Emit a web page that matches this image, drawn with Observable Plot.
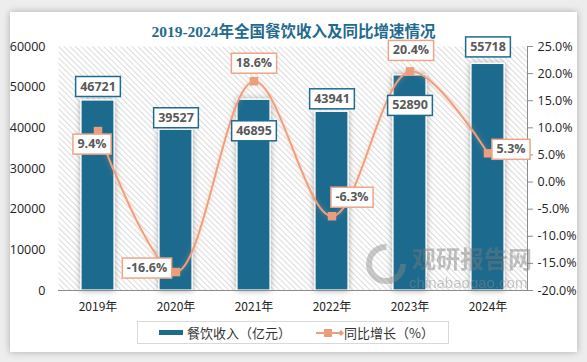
<!DOCTYPE html>
<html>
<head>
<meta charset="utf-8">
<script src="https://cdn.jsdelivr.net/npm/d3@7"></script>
<script src="https://cdn.jsdelivr.net/npm/@observablehq/plot@0.6"></script>
<style>
  html, body { margin: 0; padding: 0; }
  body { width: 587px; height: 362px; background: #ededed; overflow: hidden; font-family: "Noto Sans CJK SC", "Open Sans", sans-serif; }
  #wrap { position: relative; width: 587px; height: 362px; }
  #card { position: absolute; left: 10px; top: 12px; width: 567px; height: 340px; background: #fff; box-shadow: 0 0 7px rgba(0,0,0,0.28); }
  #chart { position: absolute; left: 0; top: 0; }
  #title { position: absolute; left: 0; top: 22px; width: 587px; text-align: center; font: bold 15.5px "Liberation Serif", "Noto Sans CJK SC", serif; color: #1f6b8e; line-height: 20px; }
  #legend { position: absolute; left: 137px; top: 321px; width: 312px; height: 23px; box-sizing: border-box; border: 1px solid #d9d9d9; background: #fff; font-size: 13px; color: #333; }
  .lg { position: absolute; top: 0; line-height: 21px; white-space: nowrap; }
  #wm { position: absolute; left: 362px; top: 240px; width: 170px; height: 55px; pointer-events: none; opacity: 0.45; }
</style>
</head>
<body>
<div id="wrap">
  <div id="card"></div>
  <div id="chart"></div>
  <div id="wm">
    <svg width="170" height="55">
      <circle cx="24" cy="24" r="17" fill="none" stroke="#8a8a8a" stroke-width="6" stroke-dasharray="80 27"/>
      <text x="50" y="28" font-size="24" font-weight="bold" fill="#7a7a7a" font-family="Noto Sans CJK SC">观研报告网</text>
      <text x="47" y="48" font-size="15" fill="#8a8a8a" font-family="Liberation Sans">chinabaogao.com</text>
    </svg>
  </div>
  <div id="title">2019-2024年全国餐饮收入及同比增速情况</div>
  <div id="legend">
    <svg style="position:absolute;left:21px;top:8px" width="25" height="6"><rect x="0" y="0" width="24" height="5" fill="#1f6b8e"/></svg>
    <div class="lg" style="left:49px">餐饮收入（亿元）</div>
    <svg style="position:absolute;left:177px;top:4px" width="30" height="14">
      <line x1="1" y1="7" x2="27" y2="7" stroke="#ef9f7e" stroke-width="2"/>
      <rect x="9" y="3" width="8" height="8" fill="#ec9d7c"/>
      <path d="M26 4 L29 7 L26 10 L23 7 Z" fill="#ec9d7c"/>
    </svg>
    <div class="lg" style="left:206px">同比增长（%）</div>
  </div>
</div>
<script>
// ---- data ----
const years = ["2019年", "2020年", "2021年", "2022年", "2023年", "2024年"];
const revenue = [46721, 39527, 46895, 43941, 52890, 55718];
const growth = [9.4, -16.6, 18.6, -6.3, 20.4, 5.3];
const leftTicks = [0, 10000, 20000, 30000, 40000, 50000, 60000];
const rightTicks = [-20, -15, -10, -5, 0, 5, 10, 15, 20, 25];

// ---- layout (label offsets in px) ----
const barLabelDy = [-14, -12, 31, -13, 30, -17];
const lineLabelOffset = [[-6, 13], [-29, -4], [0, -18], [20, -19], [1, -21], [23, -4]];

const yMax = 60000, pMin = -20, pMax = 25;
const yFromPct = p => (p - pMin) / (pMax - pMin) * yMax;
const pctFromY = y => y / yMax * (pMax - pMin) + pMin;

const data = years.map((year, i) => ({year, revenue: revenue[i], growth: growth[i]}));

const BLUE = "#1f6b8e", ORANGE = "#ef9f7e";
const LABEL_FONT = "bold 12.5px 'Open Sans'";
const measureCtx = document.createElement("canvas").getContext("2d");

// render function that draws a white box with a coloured border behind each label
function boxed(color) {
  return function (index, scales, values, dimensions, context, next) {
    const g = next(index, scales, values, dimensions, context);
    const texts = g.querySelectorAll("text");
    measureCtx.font = LABEL_FONT;
    index.forEach((i, k) => {
      const t = texts[k];
      if (!t) return;
      const w = measureCtx.measureText(t.textContent).width + 9;
      const h = 20;
      const r = document.createElementNS("http://www.w3.org/2000/svg", "rect");
      r.setAttribute("x", values.x[i] - w / 2);
      r.setAttribute("y", values.y[i] - h / 2);
      r.setAttribute("width", w);
      r.setAttribute("height", h);
      r.setAttribute("fill", "#fff");
      r.setAttribute("stroke", color);
      r.setAttribute("stroke-width", 1.5);
      t.parentNode.insertBefore(r, t);
    });
    return g;
  };
}

const barLabels = data.map((d, i) => Plot.text([d], {
  x: "year", y: "revenue", text: d => String(d.revenue),
  dy: barLabelDy[i], fill: "#595959", fontWeight: "bold", fontSize: 12.5,
  fontFamily: "'Open Sans', sans-serif", render: boxed(BLUE)
}));
const lineLabels = data.map((d, i) => Plot.text([d], {
  x: "year", y: d => yFromPct(d.growth), text: d => d.growth.toFixed(1) + "%",
  dx: lineLabelOffset[i][0], dy: lineLabelOffset[i][1], fill: "#595959", fontWeight: "bold", fontSize: 12.5,
  fontFamily: "'Open Sans', sans-serif", render: boxed("#eda587")
}));

const chart = Plot.plot({
  width: 587, height: 362,
  marginTop: 46, marginBottom: 72, marginLeft: 58, marginRight: 60,
  style: {background: "transparent", fontFamily: "'Noto Sans CJK SC', 'Open Sans', sans-serif", fontSize: "12px", color: "#222"},
  x: {domain: years, paddingInner: 0.58, paddingOuter: 0.29, label: null},
  y: {domain: [0, yMax], label: null},
  marks: [
    Plot.frame({fill: "url(#hatch)", stroke: "none"}),
    Plot.barY(data, {x: "year", y: "revenue", fill: BLUE, stroke: "white", strokeWidth: 1.2}),
    Plot.ruleY([0], {stroke: "#8c8c8c", strokeWidth: 1.2}),
    Plot.axisY({ticks: leftTicks, tickSize: 0, tickPadding: 13, tickFormat: d => String(d), fontSize: 12.5, fontFamily: "'Open Sans', sans-serif", label: null}),
    Plot.axisY({anchor: "right", ticks: rightTicks.map(yFromPct), tickFormat: d => pctFromY(d).toFixed(1) + "%", tickSize: 5, tickPadding: 5, stroke: "#8c8c8c", fill: "#222", fontSize: 12.5, fontFamily: "'Open Sans', sans-serif", label: null}),
    Plot.frame({anchor: "right", stroke: "#8c8c8c"}),
    Plot.axisX({tickSize: 0, tickPadding: 12, fontSize: 12, label: null}),
    Plot.line(data, {x: "year", y: d => yFromPct(d.growth), curve: "catmull-rom", stroke: ORANGE, strokeWidth: 2}),
    Plot.dot(data, {x: "year", y: d => yFromPct(d.growth), symbol: "square", r: 4.8, fill: "#ec9d7c", stroke: "none"}),
    ...barLabels,
    ...lineLabels
  ]
});

document.getElementById("chart").appendChild(chart);

const svg = d3.select(chart);
const defs = svg.insert("defs", ":first-child");
const pat = defs.append("pattern").attr("id", "hatch").attr("patternUnits", "userSpaceOnUse")
  .attr("width", 4).attr("height", 4).attr("patternTransform", "rotate(-45)");
pat.append("rect").attr("width", 4).attr("height", 4).attr("fill", "#ffffff");
pat.append("line").attr("x1", 0).attr("y1", 0).attr("x2", 0).attr("y2", 4).attr("stroke", "#c9c9c9").attr("stroke-width", 1.3);
const sh = defs.append("filter").attr("id", "shadow").attr("x", "-30%").attr("y", "-10%").attr("width", "160%").attr("height", "120%");
sh.append("feDropShadow").attr("dx", 0).attr("dy", 0).attr("stdDeviation", 3).attr("flood-color", "#000").attr("flood-opacity", 0.35);
const glow = defs.append("filter").attr("id", "glow").attr("x", "-10%").attr("y", "-10%").attr("width", "120%").attr("height", "120%");
glow.append("feDropShadow").attr("dx", 0).attr("dy", 0).attr("stdDeviation", 2.5).attr("flood-color", "#f0a07a").attr("flood-opacity", 0.5);

svg.selectAll('g[aria-label="bar"]').attr("filter", "url(#shadow)");
svg.selectAll('g[aria-label="line"]').attr("filter", "url(#glow)");
</script>
</body>
</html>
